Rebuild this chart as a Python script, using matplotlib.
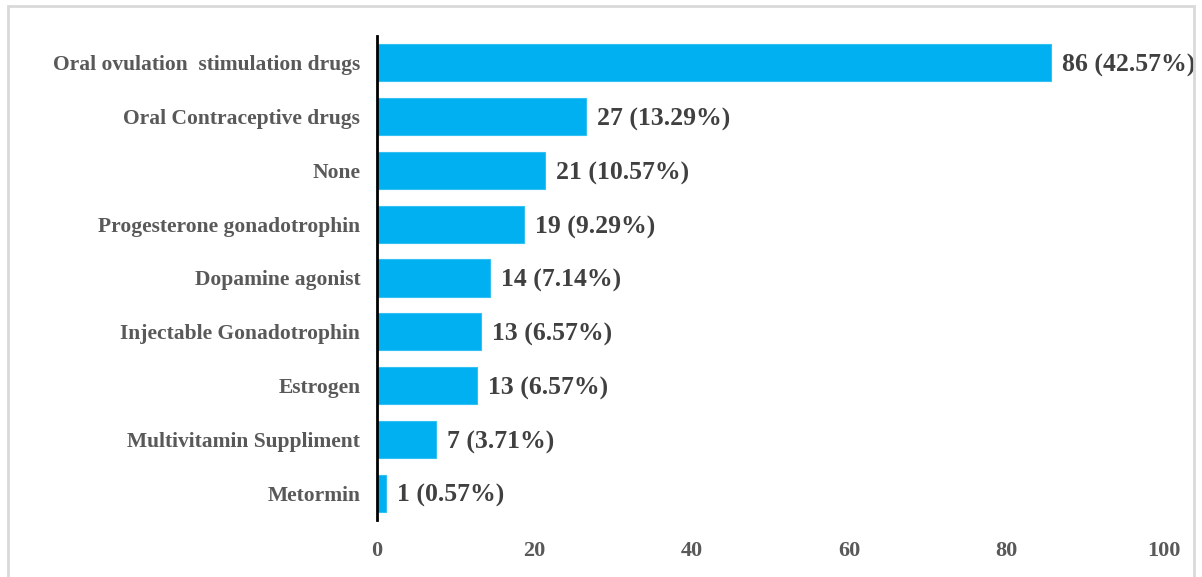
import matplotlib
matplotlib.use("Agg")
import matplotlib.pyplot as plt
from matplotlib.patches import Rectangle

categories = ["Oral ovulation  stimulation drugs", "Oral Contraceptive drugs", "None",
              "Progesterone gonadotrophin", "Dopamine agonist", "Injectable Gonadotrophin",
              "Estrogen", "Multivitamin Suppliment", "Metormin"]
bar_values = [85.6, 26.6, 21.3, 18.7, 14.3, 13.2, 12.7, 7.5, 1.1]
value_labels = ["86 (42.57%)", "27 (13.29%)", "21 (10.57%)", "19 (9.29%)", "14 (7.14%)",
                "13 (6.57%)", "13 (6.57%)", "7 (3.71%)", "1 (0.57%)"]
xticks = [0, 20, 40, 60, 80, 100]

plt.rcParams['font.family'] = ['Liberation Serif', 'DejaVu Serif']

fig = plt.figure(figsize=(12.02, 5.77), dpi=100)
fig.patches.append(Rectangle((8/1202, -0.01), 1186/1202, 1 - 6/577 + 0.01, transform=fig.transFigure,
                             fill=False, edgecolor='#d9d9d9', linewidth=2))
ax = fig.add_axes([377/1202, 1 - 520/577, (1164 - 377)/1202, (520 - 36)/577])

y = list(range(len(categories)))
bars = ax.barh(y, bar_values, height=0.69, color='#00B0F0', edgecolor='#33C0F2', linewidth=0.8)
ax.set_ylim(len(categories) - 0.5, -0.5)
ax.set_xlim(0, 100)
ax.set_yticks(y)
ax.set_yticklabels(categories, fontsize=15.5, fontweight='bold', color='#595959')
ax.set_xticks(xticks)
ax.set_xticklabels([str(t) for t in xticks], fontsize=16, fontweight='bold', color='#595959')
ax.tick_params(axis='y', length=0, pad=12)
ax.tick_params(axis='x', length=0, pad=15)
for s in ['top', 'right', 'bottom']:
    ax.spines[s].set_visible(False)
ax.spines['left'].set_color('black')
ax.spines['left'].set_linewidth(2)

for yi, v, lab in zip(y, bar_values, value_labels):
    ax.annotate(lab, xy=(v, yi), xytext=(8, -2), textcoords='offset points',
                ha='left', va='center', fontsize=18.5, fontweight='bold', color='#404040')

fig.savefig("out.png", dpi=100)
